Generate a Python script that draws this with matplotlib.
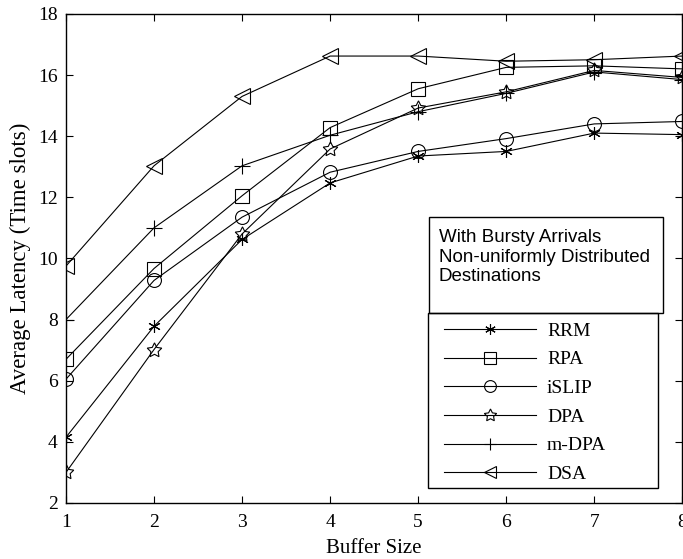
import numpy as np
import matplotlib
matplotlib.use("Agg")
import matplotlib.pyplot as plt
from matplotlib.patches import Rectangle

buffer_size = [1, 2, 3, 4, 5, 6, 7, 8]

rrm = [4.15, 7.78, 10.62, 12.47, 13.35, 13.5, 14.1, 14.05]
rpa = [6.7, 9.67, 12.05, 14.28, 15.55, 16.25, 16.3, 16.2]
islip = [6.05, 9.28, 11.35, 12.82, 13.5, 13.92, 14.4, 14.48]
dpa = [3.0, 7.02, 10.8, 13.58, 14.92, 15.45, 16.15, 15.92]
mdpa = [8.0, 11.0, 13.03, 14.03, 14.8, 15.4, 16.1, 15.85]
dsa = [9.75, 13.03, 15.3, 16.62, 16.62, 16.45, 16.5, 16.62]

series = [
    ("RRM", rrm, (6, 2, 0)),
    ("RPA", rpa, "s"),
    ("iSLIP", islip, "o"),
    ("DPA", dpa, (5, 1, 0)),
    ("m-DPA", mdpa, "+"),
    ("DSA", dsa, "<"),
]
marker_sizes = {"RRM": 9, "RPA": 10, "iSLIP": 10, "DPA": 11, "m-DPA": 11, "DSA": 11}

serif = "Liberation Serif"
sans = "Liberation Sans"
W, H = 683, 559

fig = plt.figure(figsize=(6.83, 5.59), dpi=100)
ax = fig.add_axes([0.0966, 0.1002, 0.9024, 0.875])

for name, vals, mk in series:
    ax.plot(buffer_size, vals, color="black", linewidth=0.8, marker=mk,
            markersize=marker_sizes[name], markerfacecolor="none",
            markeredgecolor="black", markeredgewidth=0.8, label=name)

ax.set_xlim(1, 8)
ax.set_ylim(2, 18)
ax.set_xticks(buffer_size)
ax.set_yticks(np.arange(2, 19, 2))
ax.tick_params(direction="in", top=True, right=True, length=5, width=0.8,
               labelsize=14)
ax.tick_params(axis="x", pad=8)
ax.tick_params(axis="y", pad=6)
for lbl in ax.get_xticklabels() + ax.get_yticklabels():
    lbl.set_fontfamily(serif)
for sp in ax.spines.values():
    sp.set_linewidth(1.0)

ax.set_xlabel("Buffer Size", fontfamily=serif, fontsize=15, labelpad=6)
ax.set_ylabel("Average Latency (Time slots)", fontfamily=serif, fontsize=16.5, labelpad=5)

# annotation box
fig.patches.append(Rectangle((429 / W, 1 - 313 / H), 234 / W, 96 / H,
                             transform=fig.transFigure, fill=False,
                             edgecolor="black", linewidth=1.0))
fig.text(439 / W, 1 - 229 / H,
         "With Bursty Arrivals\nNon-uniformly Distributed\nDestinations",
         fontfamily=sans, fontsize=13.5, va="top", ha="left", linespacing=1.2)

# legend box
fig.patches.append(Rectangle((428 / W, 1 - 488 / H), 230 / W, 175 / H,
                             transform=fig.transFigure, fill=False,
                             edgecolor="black", linewidth=1.0, zorder=5))
leg = ax.legend(loc="upper left", bbox_to_anchor=(444 / W, 1 - 322 / H),
                bbox_transform=fig.transFigure, prop={"family": serif, "size": 14},
                handlelength=4.75, handletextpad=0.55, labelspacing=0.57,
                borderpad=0.0, borderaxespad=0, frameon=False, markerscale=0.85)

fig.savefig("out.png", dpi=100)
